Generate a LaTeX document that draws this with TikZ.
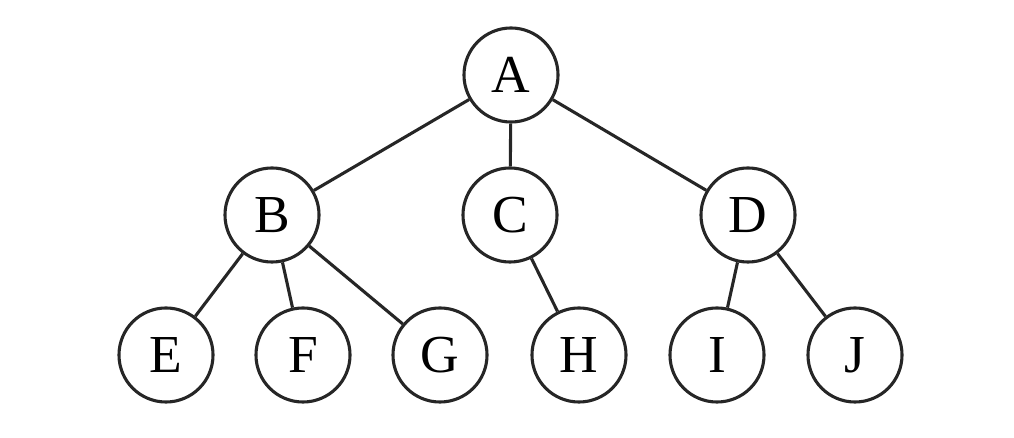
\documentclass[tikz,border=0pt]{standalone}
\usepackage{fontspec}
\setmainfont{Liberation Serif}
\usetikzlibrary{positioning}

\begin{document}
\begin{tikzpicture}[
		x=0.025cm,
		y=-0.025cm,
		vertex/.style={
			circle,
			draw=black!85,
			line width=2.2pt,
			minimum size=2.35cm,
			inner sep=0pt,
			font=\fontsize{38}{40}\selectfont
		},
		edge/.style={
			draw=black!85,
			line width=2.2pt
		}
		]
		
		\useasboundingbox (0,0) rectangle (1014,438);
		
		% root
		\node[vertex] (A) at (511,75) {A};
		
		% second level
		\node[vertex] (B) at (272,215) {B};
		\node[vertex] (C) at (510,215) {C};
		\node[vertex] (D) at (748,215) {D};
		
		% leaves
		\node[vertex] (E) at (166,355) {E};
		\node[vertex] (F) at (303,355) {F};
		\node[vertex] (G) at (440,355) {G};
		\node[vertex] (H) at (579,355) {H};
		\node[vertex] (I) at (717,355) {I};
		\node[vertex] (J) at (855,355) {J};
		
		\draw[edge] (A) -- (B);
		\draw[edge] (A) -- (C);
		\draw[edge] (A) -- (D);
		\draw[edge] (B) -- (E);
		\draw[edge] (B) -- (F);
		\draw[edge] (B) -- (G);
		\draw[edge] (C) -- (H);
		\draw[edge] (D) -- (I);
		\draw[edge] (D) -- (J);
		
	\end{tikzpicture}
\end{document}
